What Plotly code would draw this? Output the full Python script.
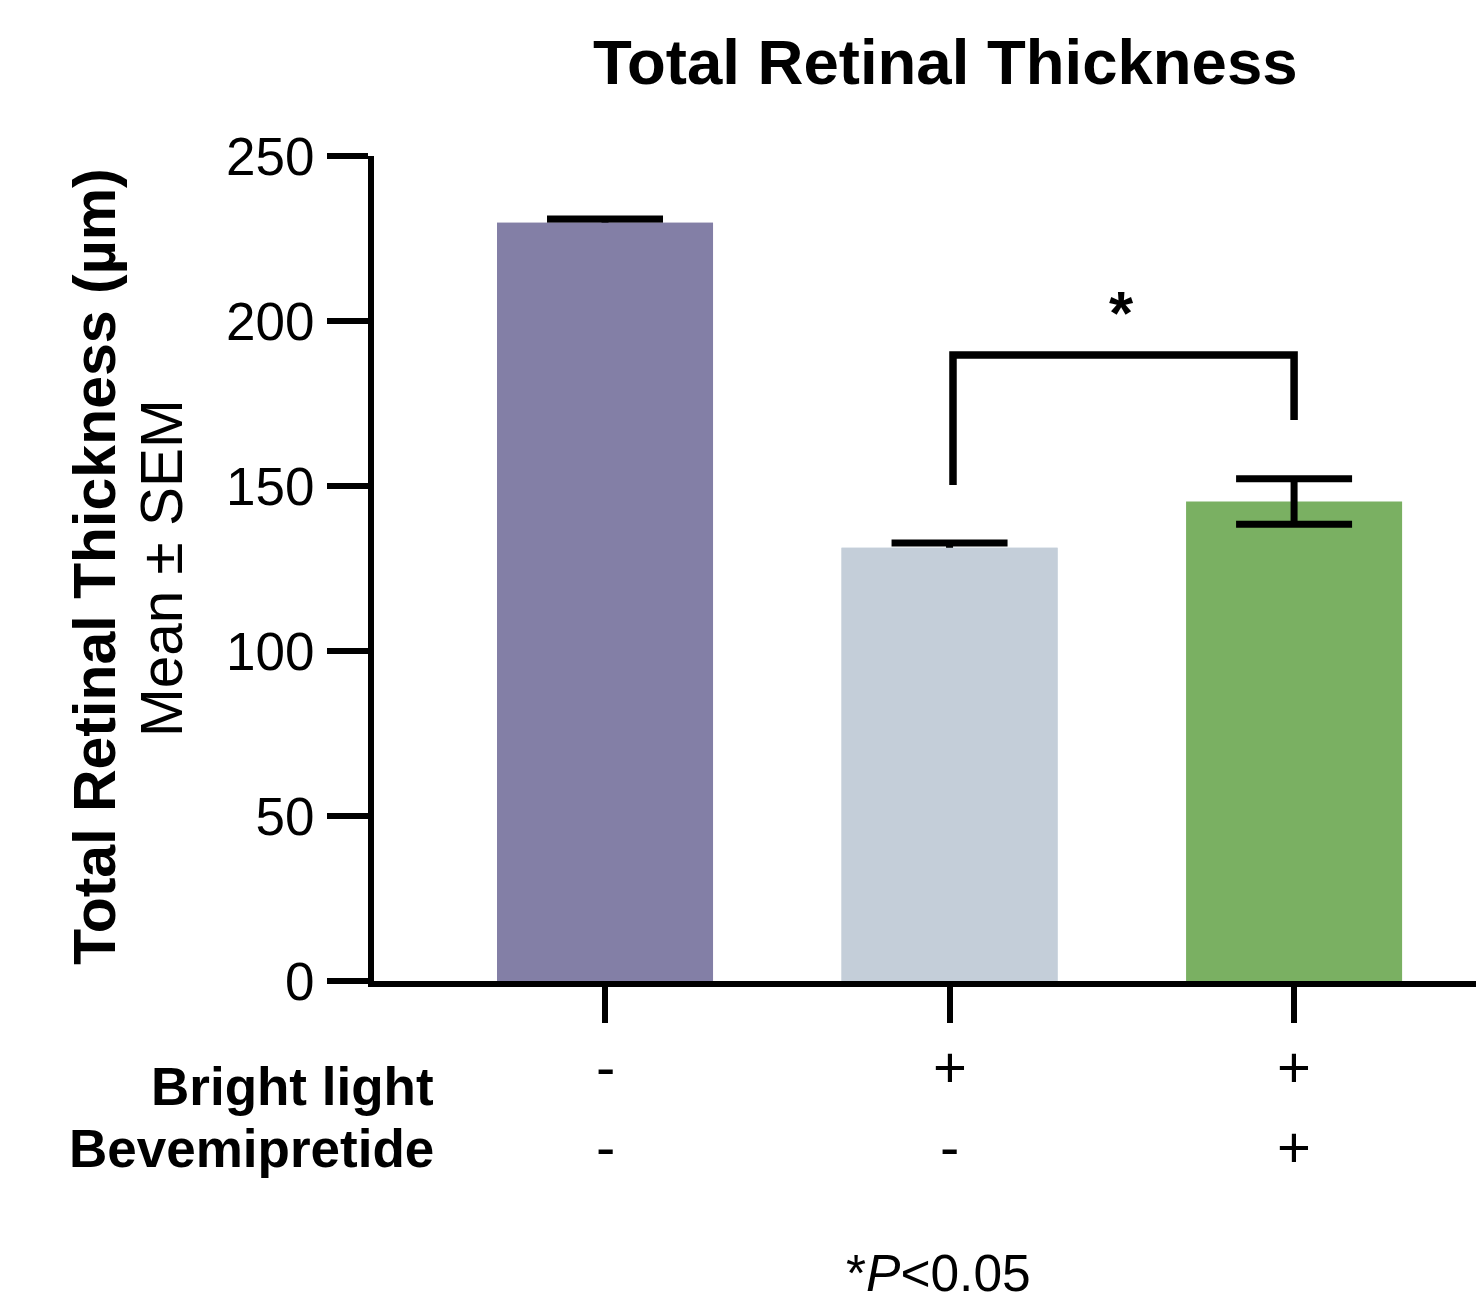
import plotly.graph_objects as go

# ---- data ----
groups = ["Control", "Bright light", "Bright light + Bevemipretide"]
x_pos = [0, 1, 2]
means = [229.8, 131.3, 145.3]
sems = [1.1, 1.4, 6.9]
colors = ["#837FA6", "#C4CED9", "#7AB062"]
bright_light = ["-", "+", "+"]
bevemipretide = ["-", "-", "+"]
y_ticks = [0, 50, 100, 150, 200, 250]
bracket_x = [1.01, 1.01, 2, 2]
bracket_y = [150.3, 189.7, 189.7, 170.0]
sig_x = 1.5
sig_label = "*"

FONT = "Liberation Sans, Arial, Helvetica, sans-serif"

# plot area geometry
L, R, T, B = 374, 0, 156, 322
W, H = 1476, 1303
PH = H - T - B
PW = W - L - R


def py(p):
    return (H - B - p) / PH


def px(p):
    return (p - L) / PW


fig = go.Figure()

fig.add_trace(go.Bar(
    x=x_pos, y=means, width=0.627,
    marker=dict(color=colors, line=dict(width=0)),
    error_y=dict(type="data", array=sems, visible=True,
                 color="black", thickness=7, width=58),
    showlegend=False, hoverinfo="skip",
))
# bars 1-2 drawn again on top so only the upper half of their tiny SEM shows
fig.add_trace(go.Bar(
    x=x_pos, y=[means[0], means[1], None], width=0.627,
    marker=dict(color=colors, line=dict(width=0)),
    showlegend=False, hoverinfo="skip",
))

fig.add_trace(go.Scatter(
    x=bracket_x, y=bracket_y, mode="lines",
    line=dict(color="black", width=7.5),
    showlegend=False, hoverinfo="skip",
))

annotations = []
# significance star
annotations.append(dict(x=sig_x, y=py(312), xref="x", yref="paper",
                        text="<b>" + sig_label + "</b>", showarrow=False,
                        font=dict(family=FONT, size=62, color="black"),
                        xanchor="center", yanchor="middle"))
# title
annotations.append(dict(x=px(945), y=py(62), xref="paper", yref="paper",
                        text="<b>Total Retinal Thickness</b>", showarrow=False,
                        font=dict(family=FONT, size=63.5, color="black"),
                        xanchor="center", yanchor="middle"))
# y-axis title lines
annotations.append(dict(x=px(95), y=py(567), xref="paper", yref="paper",
                        text="<b>Total Retinal Thickness (µm)</b>", showarrow=False,
                        textangle=-90,
                        font=dict(family=FONT, size=59, color="black"),
                        xanchor="center", yanchor="middle"))
annotations.append(dict(x=px(161), y=py(568), xref="paper", yref="paper",
                        text="Mean ± SEM", showarrow=False,
                        textangle=-90,
                        font=dict(family=FONT, size=58.5, color="black"),
                        xanchor="center", yanchor="middle"))
# row labels
annotations.append(dict(x=px(436), y=py(1086), xref="paper", yref="paper",
                        text="<b>Bright light</b>", showarrow=False,
                        font=dict(family=FONT, size=53, color="black"),
                        xanchor="right", yanchor="middle"))
annotations.append(dict(x=px(436), y=py(1148), xref="paper", yref="paper",
                        text="<b>Bevemipretide</b>", showarrow=False,
                        font=dict(family=FONT, size=53, color="black"),
                        xanchor="right", yanchor="middle"))
for xi, s in zip(x_pos, bright_light):
    annotations.append(dict(x=xi, y=py(1066), xref="x", yref="paper",
                            text=s, showarrow=False,
                            font=dict(family=FONT, size=58, color="black"),
                            xanchor="center", yanchor="middle"))
for xi, s in zip(x_pos, bevemipretide):
    annotations.append(dict(x=xi, y=py(1146), xref="x", yref="paper",
                            text=s, showarrow=False,
                            font=dict(family=FONT, size=58, color="black"),
                            xanchor="center", yanchor="middle"))
# footnote
annotations.append(dict(x=px(938), y=py(1273), xref="paper", yref="paper",
                        text="*<i>P</i><0.05", showarrow=False,
                        font=dict(family=FONT, size=51.5, color="black"),
                        xanchor="center", yanchor="middle"))

fig.update_layout(
    width=W, height=H,
    margin=dict(l=L, r=R, t=T, b=B, pad=0),
    paper_bgcolor="white", plot_bgcolor="white",
    barmode="overlay",
    font=dict(family=FONT, color="black"),
    annotations=annotations,
    xaxis=dict(range=[-0.6705, 2.528], tickvals=x_pos, ticktext=["", "", ""],
               showgrid=False, zeroline=False, showline=True, linecolor="black",
               linewidth=6, ticks="outside", ticklen=36, tickwidth=6,
               tickcolor="black"),
    yaxis=dict(range=[0, 250], tickvals=y_ticks, showgrid=False, zeroline=False,
               showline=True, linecolor="black", linewidth=6, ticks="outside",
               ticklen=41, tickwidth=6, tickcolor="black",
               ticklabelstandoff=2,
               tickfont=dict(family=FONT, size=53, color="black")),
)

fig.write_html("out.html")
